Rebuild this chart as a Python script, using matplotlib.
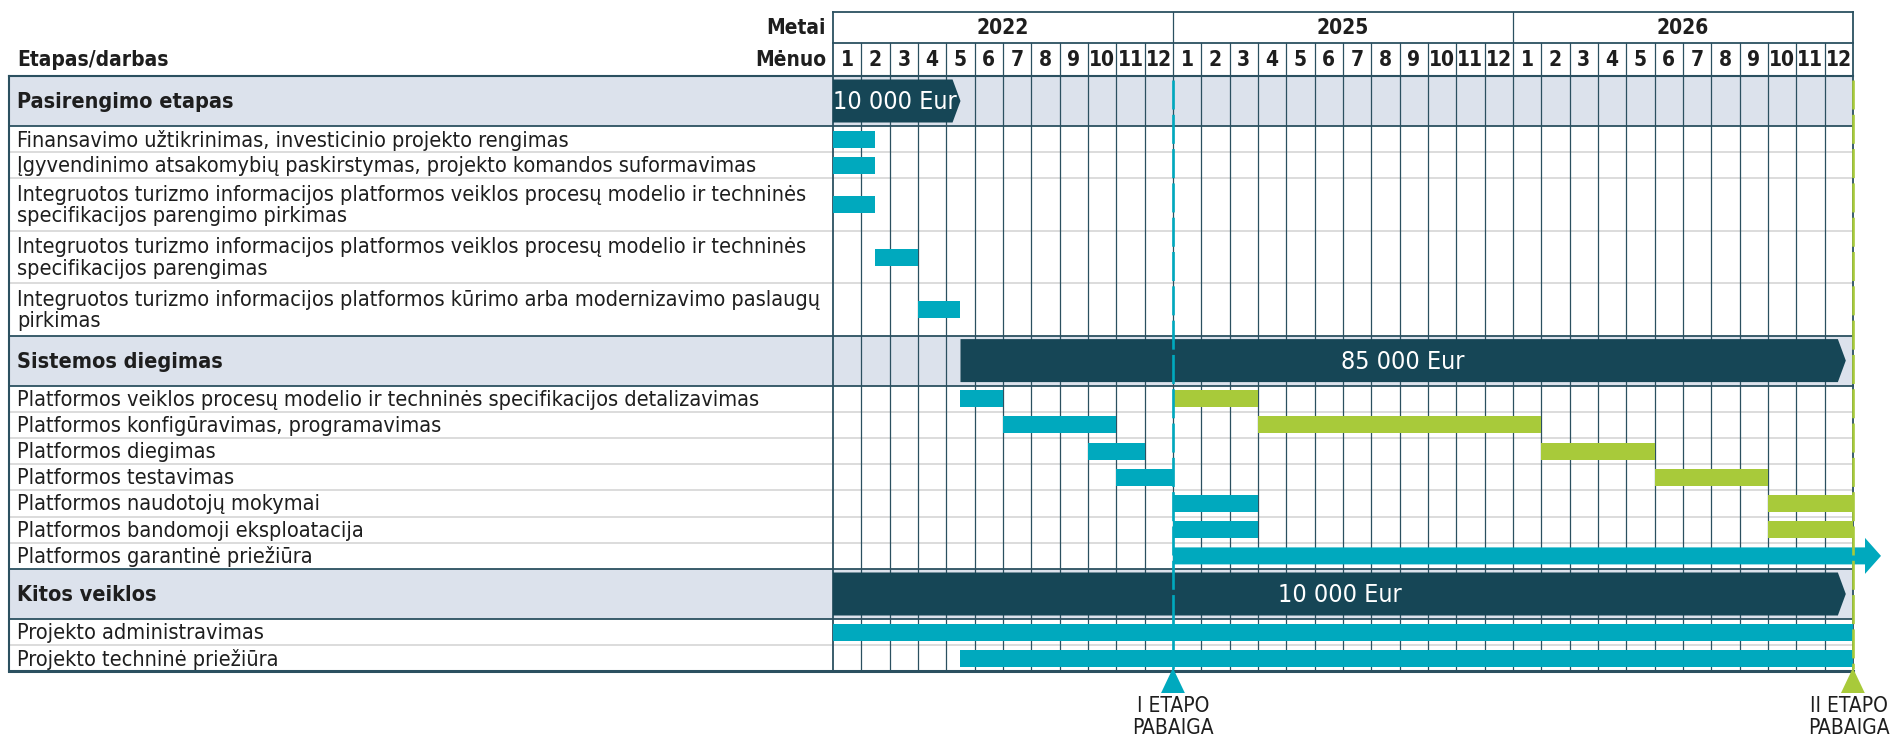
import matplotlib.pyplot as plt
from matplotlib.patches import Polygon, Rectangle

# ---- data ----
years = ['2022', '2025', '2026']
months = ['1', '2', '3', '4', '5', '6', '7', '8', '9', '10', '11', '12']

row_labels = [
    'Pasirengimo etapas',
    'Finansavimo užtikrinimas, investicinio projekto rengimas',
    'Įgyvendinimo atsakomybių paskirstymas, projekto komandos suformavimas',
    'Integruotos turizmo informacijos platformos veiklos procesų modelio ir techninės\nspecifikacijos parengimo pirkimas',
    'Integruotos turizmo informacijos platformos veiklos procesų modelio ir techninės\nspecifikacijos parengimas',
    'Integruotos turizmo informacijos platformos kūrimo arba modernizavimo paslaugų\npirkimas',
    'Sistemos diegimas',
    'Platformos veiklos procesų modelio ir techninės specifikacijos detalizavimas',
    'Platformos konfigūravimas, programavimas',
    'Platformos diegimas',
    'Platformos testavimas',
    'Platformos naudotojų mokymai',
    'Platformos bandomoji eksploatacija',
    'Platformos garantinė priežiūra',
    'Kitos veiklos',
    'Projekto administravimas',
    'Projekto techninė priežiūra',
]
row_is_section = [True, False, False, False, False, False, True, False, False,
                  False, False, False, False, False, True, False, False]

# budget bars of the three sections (months counted from Jan 2022 column)
section_row = [0, 6, 14]
section_start = [0, 4.5, 0]
section_end = [4.5, 35.75, 35.75]
section_amount = ['10 000 Eur', '85 000 Eur', '10 000 Eur']

# task bars: row, start month, end month, stage (1 = I etapas, 2 = II etapas)
bar_row = [1, 2, 3, 4, 5, 7, 7, 8, 8, 9, 9, 10, 10, 11, 11, 12, 12, 15, 16]
bar_start = [0, 0, 0, 1.5, 3, 4.5, 12, 6, 15, 9, 25, 10, 29, 12, 33, 12, 33, 0, 4.5]
bar_end = [1.5, 1.5, 1.5, 3, 4.5, 6, 15, 10, 25, 11, 29, 12, 33, 15, 36, 15, 36, 36, 36]
bar_stage = [1, 1, 1, 1, 1, 1, 2, 1, 2, 1, 2, 1, 2, 1, 2, 1, 2, 1, 1]

# open ended warranty arrow
warranty_row = 13
warranty_start = 12

# stage end milestones
milestone_month = [12, 36]
milestone_label = ['I ETAPO\nPABAIGA', 'II ETAPO\nPABAIGA']
milestone_stage = [1, 2]

# ---- style ----
TEAL = '#00A9BE'
GREEN = '#A8CA3A'
DARK = '#164656'
SECTION_BG = '#DCE2EC'
GRID = '#2B5060'
ROWLINE = '#D6D6D6'
TEXT = '#1E1E1E'
stage_color = {1: TEAL, 2: GREEN}

plt.rcParams['font.family'] = ['DejaVu Sans']
plt.rcParams['font.stretch'] = 'condensed'

PPM = 28.33     # pixels per month
GX = 833        # pixel x of the first month column
N_MONTHS = 36


def px(x):
    return (x - GX) / PPM


fig = plt.figure(figsize=(18.99, 7.39), dpi=100)
ax = fig.add_axes([0, 0, 1, 1])
ax.set_xlim(px(0), px(1899))
ax.set_ylim(739, 0)
ax.axis('off')

LEFT = px(9)
TXT_X = px(17)
HEAD_TOP, YEAR_BOT, HEAD_BOT = 12, 43, 76
LINE_H = 26.2
SECTION_H = 50
TASK_BAR_H = 17
SECTION_BAR_H = 43
FS = 15
FS_LABEL = 15.6

# row boundaries
tops = []
y = HEAD_BOT
for lab, sec in zip(row_labels, row_is_section):
    tops.append(y)
    y += SECTION_H if sec else LINE_H * (lab.count('\n') + 1)
bottom = y
bottoms = tops[1:] + [bottom]
centers = [(t + b) / 2 for t, b in zip(tops, bottoms)]

# section backgrounds and row lines
for i, sec in enumerate(row_is_section):
    if sec:
        ax.add_patch(Rectangle((LEFT, tops[i]), N_MONTHS - LEFT, bottoms[i] - tops[i],
                               facecolor=SECTION_BG, edgecolor='none', zorder=0))
for i in range(1, len(row_labels)):
    dark = row_is_section[i] or row_is_section[i - 1]
    ax.plot([LEFT, N_MONTHS], [tops[i], tops[i]], color=GRID if dark else ROWLINE,
            lw=1.3 if dark else 1.2, zorder=1)

# grid
for m in range(1, N_MONTHS):
    y0 = HEAD_TOP if m % 12 == 0 else YEAR_BOT
    ax.plot([m, m], [y0, bottom], color=GRID, lw=0.9, zorder=1)
ax.plot([0, N_MONTHS], [HEAD_TOP, HEAD_TOP], color=GRID, lw=1.3, zorder=1)
ax.plot([0, N_MONTHS], [YEAR_BOT, YEAR_BOT], color=GRID, lw=1.3, zorder=1)
ax.plot([LEFT, N_MONTHS], [HEAD_BOT, HEAD_BOT], color=GRID, lw=1.5, zorder=1)
ax.plot([LEFT, N_MONTHS], [bottom, bottom], color=GRID, lw=2.2, zorder=1)
ax.plot([LEFT, LEFT], [HEAD_BOT, bottom], color=GRID, lw=1.5, zorder=1)
ax.plot([0, 0], [HEAD_TOP, bottom], color=GRID, lw=1.3, zorder=1)
ax.plot([N_MONTHS, N_MONTHS], [HEAD_TOP, bottom], color=GRID, lw=1.3, zorder=1)

# header texts
for k, yr in enumerate(years):
    ax.text(12 * k + 6, (HEAD_TOP + YEAR_BOT) / 2, yr, ha='center', va='center',
            fontsize=FS, fontweight='bold', color=TEXT)
    for j, mo in enumerate(months):
        ax.text(12 * k + j + 0.5, (YEAR_BOT + HEAD_BOT) / 2 + 1, mo, ha='center', va='center',
                fontsize=FS, fontweight='bold', color=TEXT)
ax.text(px(826), (HEAD_TOP + YEAR_BOT) / 2, 'Metai', ha='right', va='center',
        fontsize=FS, fontweight='bold', color=TEXT)
ax.text(px(826), (YEAR_BOT + HEAD_BOT) / 2 + 1, 'Mėnuo', ha='right', va='center',
        fontsize=FS, fontweight='bold', color=TEXT)
ax.text(TXT_X, (YEAR_BOT + HEAD_BOT) / 2 + 1, 'Etapas/darbas', ha='left', va='center',
        fontsize=FS, fontweight='bold', color=TEXT)

# row labels
for lab, sec, c in zip(row_labels, row_is_section, centers):
    ax.text(TXT_X, c + 1, lab, ha='left', va='center', fontsize=FS_LABEL,
            fontweight='bold' if sec else 'normal', color=TEXT, linespacing=1.1, zorder=5)

# section budget chevrons
TIP = 0.28
for r, s, e, amt in zip(section_row, section_start, section_end, section_amount):
    c = centers[r]
    h = SECTION_BAR_H / 2
    ax.add_patch(Polygon([(s, c - h), (e - TIP, c - h), (e, c), (e - TIP, c + h), (s, c + h)],
                         closed=True, facecolor=DARK, edgecolor='none', zorder=3))
    wide = (e - s) > 20
    ax.text((s + e) / 2 if wide else s, c + 1, amt, ha='center' if wide else 'left',
            va='center', color='white', fontsize=18, zorder=5)

# task bars
for r, s, e, st in zip(bar_row, bar_start, bar_end, bar_stage):
    ax.add_patch(Rectangle((s, centers[r] - TASK_BAR_H / 2), e - s, TASK_BAR_H,
                           facecolor=stage_color[st], edgecolor='none', zorder=3))

# warranty arrow running past the end of the table
c = centers[warranty_row]
head_x, tip_x = px(1865), px(1881)
ax.add_patch(Polygon([(warranty_start, c - TASK_BAR_H / 2), (head_x, c - TASK_BAR_H / 2),
                      (head_x, c - 18), (tip_x, c), (head_x, c + 18),
                      (head_x, c + TASK_BAR_H / 2), (warranty_start, c + TASK_BAR_H / 2)],
                     closed=True, facecolor=TEAL, edgecolor='none', zorder=3))

# milestones: dashed line, triangle and label
for m, lab, st in zip(milestone_month, milestone_label, milestone_stage):
    col = stage_color[st]
    ax.plot([m, m], [HEAD_BOT + 4, bottom - 2], color=col, lw=1.9,
            linestyle=(0, (11, 2)), zorder=4)
    ax.add_patch(Polygon([(m - 0.42, 693), (m + 0.42, 693), (m, 668)], closed=True,
                         facecolor=col, edgecolor='none', zorder=4))
    ax.text(m - (0.15 if m == N_MONTHS else 0), 717, lab, ha='center', va='center',
            fontsize=FS, color=TEXT, linespacing=1.15, multialignment='center')

fig.savefig('out.png', dpi=100)
